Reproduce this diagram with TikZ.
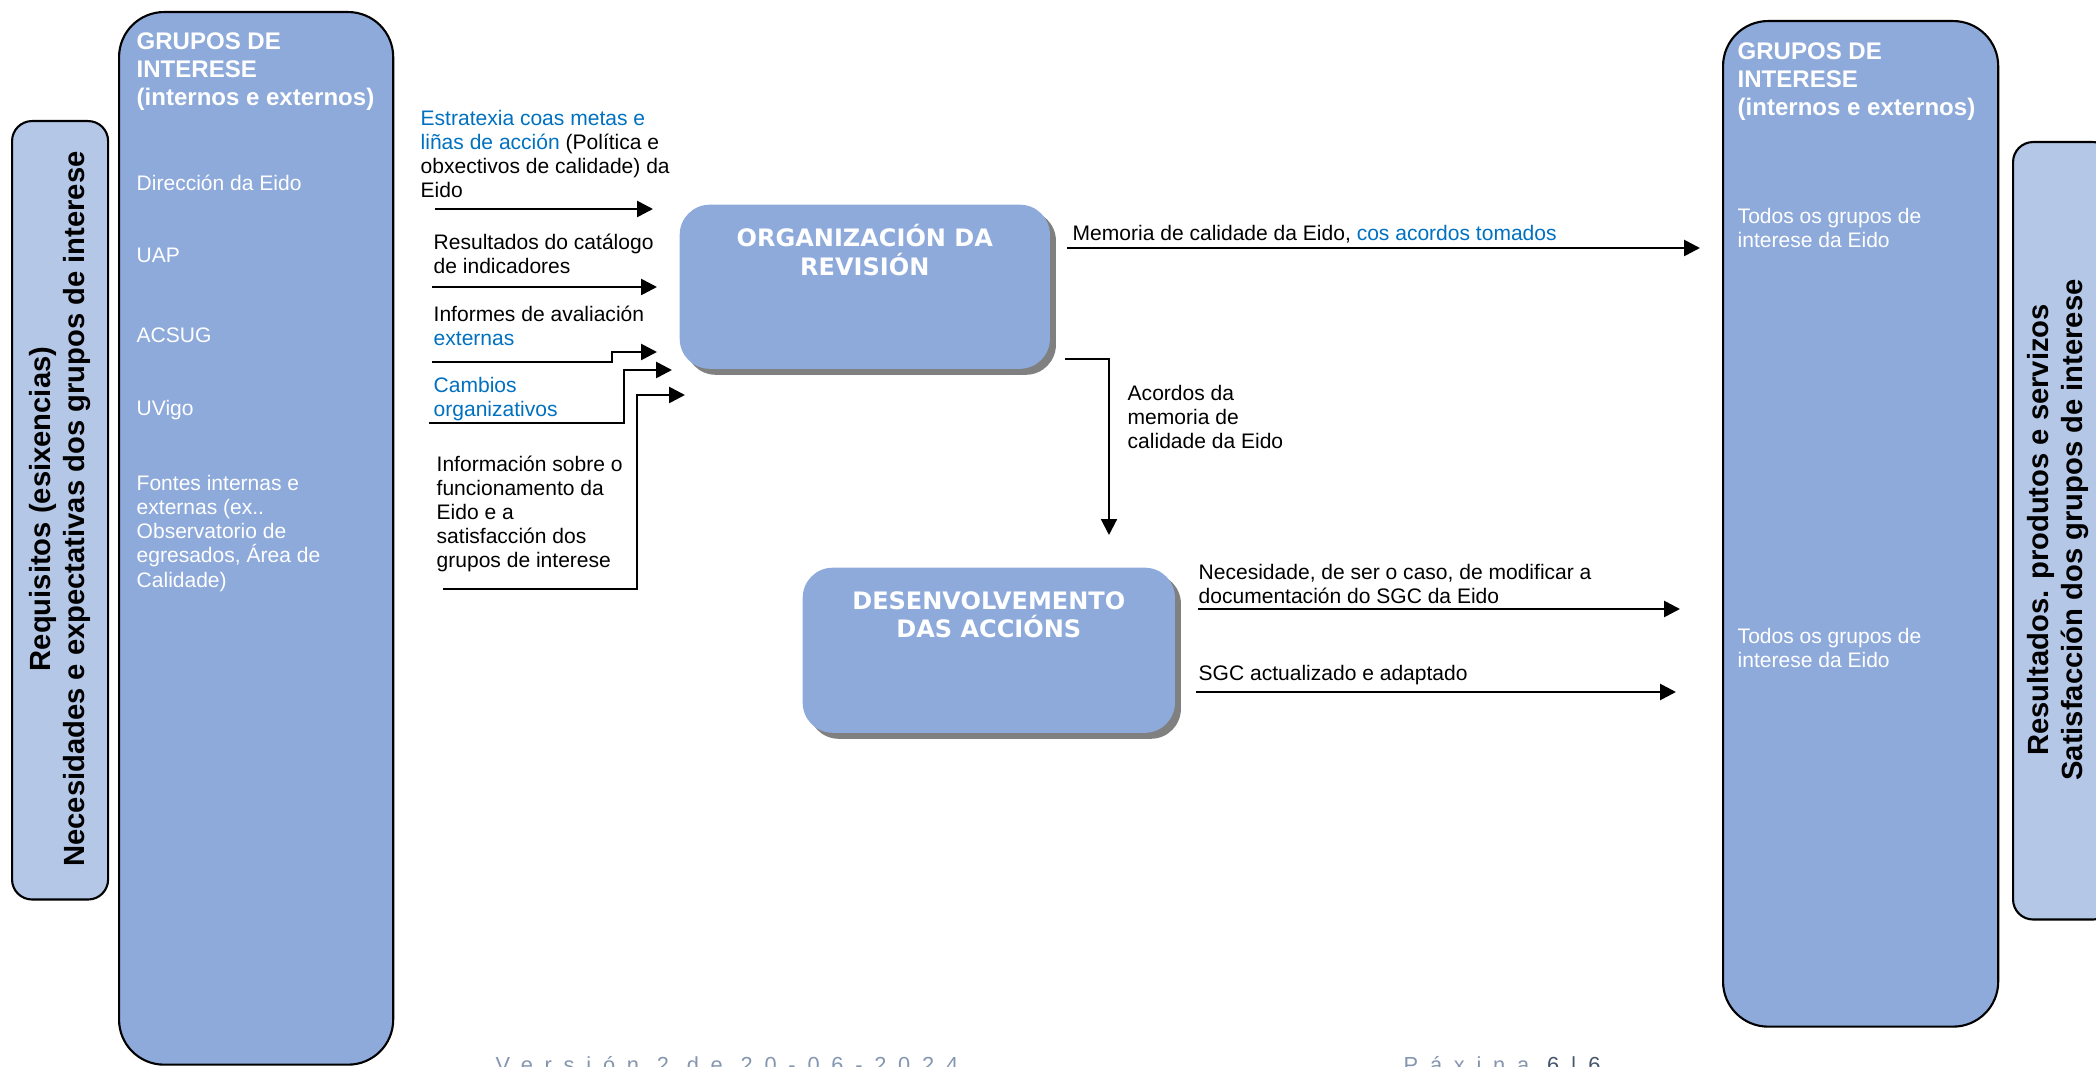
\documentclass[tikz,border=0pt]{standalone}
\usepackage{fontspec}
\setmainfont{Liberation Sans}
\newfontfamily\titlefont{DejaVu Sans}
\usepackage{tikz}
\usetikzlibrary{arrows.meta, positioning, shadows}

\definecolor{grupoazul}{HTML}{8EAADB}
\definecolor{claroazul}{HTML}{B4C7E7}
\definecolor{ligazon}{HTML}{0070C0}
\definecolor{pegris}{HTML}{8496B0}
\definecolor{peescuro}{HTML}{44546A}

\begin{document}
\begin{tikzpicture}[x=0.01cm, y=-0.01cm,
        grupo/.style={draw, line width=0.6pt, fill=grupoazul, rounded corners=0.45cm, anchor=north west, inner sep=0},
        lateral/.style={draw, line width=0.6pt, fill=claroazul, rounded corners=0.2cm, anchor=north west, inner sep=0},
        proceso/.style={fill=grupoazul, rounded corners=0.3cm, anchor=north west, inner sep=0,
            drop shadow={shadow xshift=0.06cm, shadow yshift=-0.06cm, fill=black!50, opacity=1}},
        cabeza/.style={anchor=north west, inner sep=0, align=left, text=white, font=\bfseries\fontsize{6.83}{7.97}\selectfont},
        branco/.style={anchor=north west, inner sep=0, align=left, text=white, font=\fontsize{5.98}{6.83}\selectfont},
        etiqueta/.style={anchor=north west, inner sep=0, align=left, font=\fontsize{5.98}{6.83}\selectfont},
        vertical/.style={rotate=90, align=center, inner sep=0, font=\bfseries\fontsize{8.3}{9.5}\selectfont},
        titulo/.style={inner sep=0, align=center, text=white, font=\titlefont\bfseries\fontsize{6.83}{7.97}\selectfont},
        fluxo/.style={line width=0.75pt, -{Triangle[length=4.5pt, width=4.5pt]}},
        pe/.style={anchor=north west, inner sep=0, text=pegris, font=\fontsize{6.2}{7}\selectfont\addfontfeature{LetterSpace=54}}]

        \useasboundingbox (0,0) rectangle (2096,1067);
        \clip (0,0) rectangle (2096,1067);

        % grupos de interese
        \node[lateral, minimum width=0.96cm, minimum height=7.78cm] (necesidades) at (11,120) {};
        \node[grupo, minimum width=2.74cm, minimum height=10.52cm] (entrada) at (118,11) {};
        \node[grupo, minimum width=2.75cm, minimum height=10.05cm] (saida) at (1722,20) {};
        \node[lateral, minimum width=1.0cm, minimum height=7.77cm] (resultados) at (2012,141) {};

        \node[vertical] (necesidadestxt) at (60,509) {Requisitos (esixencias)\\Necesidades e expectativas dos grupos de interese};
        \node[vertical] (resultadostxt) at (2058,530) {Resultados. produtos e servizos\\Satisfacción dos grupos de interese};

        \node[cabeza] (entradacab) at (136,32) {GRUPOS DE\\INTERESE\\(internos e externos)};
        \node[branco] (direccion) at (136,174) {Dirección da Eido};
        \node[branco] (uap) at (136,247) {UAP};
        \node[branco] (acsug) at (136,327) {ACSUG};
        \node[branco] (uvigo) at (136,400) {UVigo};
        \node[branco] (fontes) at (136,475) {Fontes internas e\\externas (ex..\\Observatorio de\\egresados, Área de\\Calidade)};

        \node[cabeza] (saidacab) at (1737,42) {GRUPOS DE\\INTERESE\\(internos e externos)};
        \node[branco] (todos) at (1737,208) {Todos os grupos de\\interese da Eido};
        \node[branco] (todosb) at (1737,628) {Todos os grupos de\\interese da Eido};

        % procesos
        \node[proceso, minimum width=3.70cm, minimum height=1.64cm] (revision) at (679,204) {};
        \node[titulo, below=0.20cm of revision.north] (revisiontit) {ORGANIZACIÓN DA\\REVISIÓN};
        \node[proceso, minimum width=3.72cm, minimum height=1.65cm] (accions) at (802,567) {};
        \node[titulo, below=0.24cm of accions.north] (accionstit) {DESENVOLVEMENTO\\DAS ACCIÓNS};

        % entradas
        \node[etiqueta] (estratexia) at (420,110) {\textcolor{ligazon}{Estratexia coas metas e}\\\textcolor{ligazon}{liñas de acción} (Política e\\obxectivos de calidade) da\\Eido};
        \node[etiqueta] (catalogo) at (433,233) {Resultados do catálogo\\de indicadores};
        \node[etiqueta] (informes) at (433,305) {Informes de avaliación\\\textcolor{ligazon}{externas}};
        \node[etiqueta] (cambios) at (433,377) {\textcolor{ligazon}{Cambios}\\\textcolor{ligazon}{organizativos}};
        \node[etiqueta] (funcionamento) at (436,455) {Información sobre o\\funcionamento da\\Eido e a\\satisfacción dos\\grupos de interese};

        \coordinate (e1) at (435,209);
        \coordinate (e1f) at (653,209);
        \coordinate (e2) at (432,287);
        \coordinate (e2f) at (657,287);
        \coordinate (e3) at (432,362);
        \coordinate (e3k) at (612,352);
        \coordinate (e3f) at (657,352);
        \coordinate (e4) at (429,423);
        \coordinate (e4k) at (624,370);
        \coordinate (e4f) at (672,370);
        \coordinate (e5) at (443,589);
        \coordinate (e5k) at (637,395);
        \coordinate (e5f) at (685,395);

        \draw[fluxo] (e1) -- (e1f);
        \draw[fluxo] (e2) -- (e2f);
        \draw[fluxo] (e3) -| (e3k) -- (e3f);
        \draw[fluxo] (e4) -| (e4k) -- (e4f);
        \draw[fluxo] (e5) -| (e5k) -- (e5f);

        % saidas
        \node[etiqueta] (memoria) at (1072,225) {Memoria de calidade da Eido, \textcolor{ligazon}{cos acordos tomados}};
        \node[etiqueta] (acordos) at (1127,385) {Acordos da\\memoria de\\calidade da Eido};
        \node[etiqueta] (necesidade) at (1198,564) {Necesidade, de ser o caso, de modificar a\\documentación do SGC da Eido};
        \node[etiqueta] (actualizado) at (1198,665) {SGC actualizado e adaptado};

        \coordinate (s1) at (1067,248);
        \coordinate (s1f) at (1700,248);
        \coordinate (s2) at (1065,359);
        \coordinate (s2f) at (1109,535);
        \coordinate (s3) at (1198,609);
        \coordinate (s3f) at (1680,609);
        \coordinate (s4) at (1196,692);
        \coordinate (s4f) at (1676,692);

        \draw[fluxo] (s1) -- (s1f);
        \draw[fluxo, line width=0.6pt] (s2) -| (s2f);
        \draw[fluxo] (s3) -- (s3f);
        \draw[fluxo] (s4) -- (s4f);

        \node[pe] (version) at (495,1056) {Versión 2 de 20-06-2024};
        \node[pe] (paxina) at (1403,1056) {Páxina \textcolor{peescuro}{6|6}};
\end{tikzpicture}
\end{document}
